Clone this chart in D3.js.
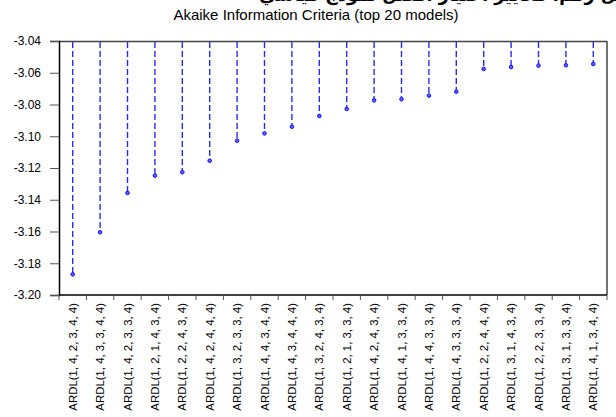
<!DOCTYPE html>
<html>
<head>
<meta charset="utf-8">
<script src="https://cdn.jsdelivr.net/npm/d3@7"></script>
<style>
  html, body { margin: 0; padding: 0; background: #fff; }
  svg { display: block; }
  text { font-family: "Liberation Sans", Arial, sans-serif; fill: #000; }
</style>
</head>
<body>
<div id="chart"></div>
<script>
const categories = [
  "ARDL(1, 4, 2, 3, 4, 4)", "ARDL(1, 4, 3, 3, 4, 4)", "ARDL(1, 4, 2, 3, 3, 4)",
  "ARDL(1, 2, 1, 4, 3, 4)", "ARDL(1, 2, 2, 4, 3, 4)", "ARDL(1, 4, 2, 4, 4, 4)",
  "ARDL(1, 3, 2, 3, 3, 4)", "ARDL(1, 4, 4, 3, 4, 4)", "ARDL(1, 4, 3, 4, 4, 4)",
  "ARDL(1, 3, 2, 4, 3, 4)", "ARDL(1, 2, 1, 3, 3, 4)", "ARDL(1, 4, 2, 4, 3, 4)",
  "ARDL(1, 4, 1, 3, 3, 4)", "ARDL(1, 4, 4, 3, 3, 4)", "ARDL(1, 4, 3, 3, 3, 4)",
  "ARDL(1, 2, 2, 4, 4, 4)", "ARDL(1, 3, 1, 4, 3, 4)", "ARDL(1, 2, 2, 3, 3, 4)",
  "ARDL(1, 3, 1, 3, 3, 4)", "ARDL(1, 4, 1, 3, 4, 4)"
];
const aicValues = [
  -3.1870, -3.1605, -3.1357, -3.1248, -3.1227, -3.1154, -3.1028, -3.0982, -3.0940, -3.0872,
  -3.0828, -3.0774, -3.0767, -3.0744, -3.0719, -3.0576, -3.0564, -3.0555, -3.0553, -3.0545
];
const yTicks = [-3.04, -3.06, -3.08, -3.10, -3.12, -3.14, -3.16, -3.18, -3.20];
const titleText = "Akaike Information Criteria (top 20 models)";
const headerText = "الشكل رقم: معايير اختيار أفضل نموذج قياسي";

const W = 616, H = 417;
const m = { left: 59, right: 9, top: 41, bottom: 122 };
const iw = W - m.left - m.right, ih = H - m.top - m.bottom;

const svg = d3.select("#chart").append("svg").attr("width", W).attr("height", H);

// header text cut off at the top edge, as in the source image
svg.append("text")
  .attr("x", 458).attr("y", 1)
  .attr("text-anchor", "middle")
  .style("font-family", "'DejaVu Sans', sans-serif")
  .style("font-weight", "bold")
  .style("font-size", "17.5px")
  .text(headerText);

svg.append("text")
  .attr("x", 316).attr("y", 20)
  .attr("text-anchor", "middle")
  .style("font-size", "15px")
  .text(titleText);

const g = svg.append("g").attr("transform", `translate(${m.left},${m.top})`);

const x = d3.scaleBand().domain(categories).range([0, iw]).padding(0);
const y = d3.scaleLinear().domain([-3.20, -3.04]).range([ih, 0]);

// frame
g.append("line").attr("x1", 0).attr("x2", iw).attr("y1", 0.5).attr("y2", 0.5)
  .attr("stroke", "#444").attr("stroke-width", 1.5);
g.append("line").attr("x1", iw).attr("x2", iw).attr("y1", 0).attr("y2", ih)
  .attr("stroke", "#444").attr("stroke-width", 1.5);

// y axis
const yAxis = g.append("g")
  .call(d3.axisLeft(y).tickValues(yTicks).tickFormat(d3.format(".2f")).tickSize(9).tickPadding(9));
yAxis.select(".domain").attr("stroke", "#000").attr("stroke-width", 1.5);
yAxis.selectAll(".tick line").attr("stroke", "#555");
yAxis.selectAll("text").style("font-size", "12px").style("font-family", "'Liberation Sans', Arial, sans-serif")
  .text(d => d3.format(".2f")(d).replace("−", "-"));

// x axis with ticks at band boundaries
const xg = g.append("g").attr("transform", `translate(0,${ih})`);
xg.append("line").attr("x1", 0).attr("x2", iw).attr("y1", 0).attr("y2", 0)
  .attr("stroke", "#000").attr("stroke-width", 1.5);
const bounds = d3.range(categories.length + 1).map(i => i * x.step());
xg.selectAll(".bt").data(bounds).join("line")
  .attr("x1", d => d).attr("x2", d => d).attr("y1", 0).attr("y2", 5)
  .attr("stroke", "#555");
xg.selectAll(".xl").data(categories).join("text")
  .attr("transform", d => `translate(${x(d) + x.bandwidth() / 2 + 4},${8}) rotate(-90)`)
  .attr("text-anchor", "end")
  .style("font-size", "11.4px")
  .text(d => d);

// stems
g.selectAll(".stem").data(aicValues).join("line")
  .attr("x1", (d, i) => x(categories[i]) + x.bandwidth() / 2)
  .attr("x2", (d, i) => x(categories[i]) + x.bandwidth() / 2)
  .attr("y1", y(-3.04) + 1)
  .attr("y2", d => y(d))
  .attr("stroke", "#2a2aff")
  .attr("stroke-width", 1.4)
  .attr("stroke-dasharray", "6,3");

g.selectAll(".pt").data(aicValues).join("circle")
  .attr("cx", (d, i) => x(categories[i]) + x.bandwidth() / 2)
  .attr("cy", d => y(d))
  .attr("r", 1.8)
  .attr("fill", "#6060ff")
  .attr("stroke", "#1010ff")
  .attr("stroke-width", 1);
</script>
</body>
</html>
